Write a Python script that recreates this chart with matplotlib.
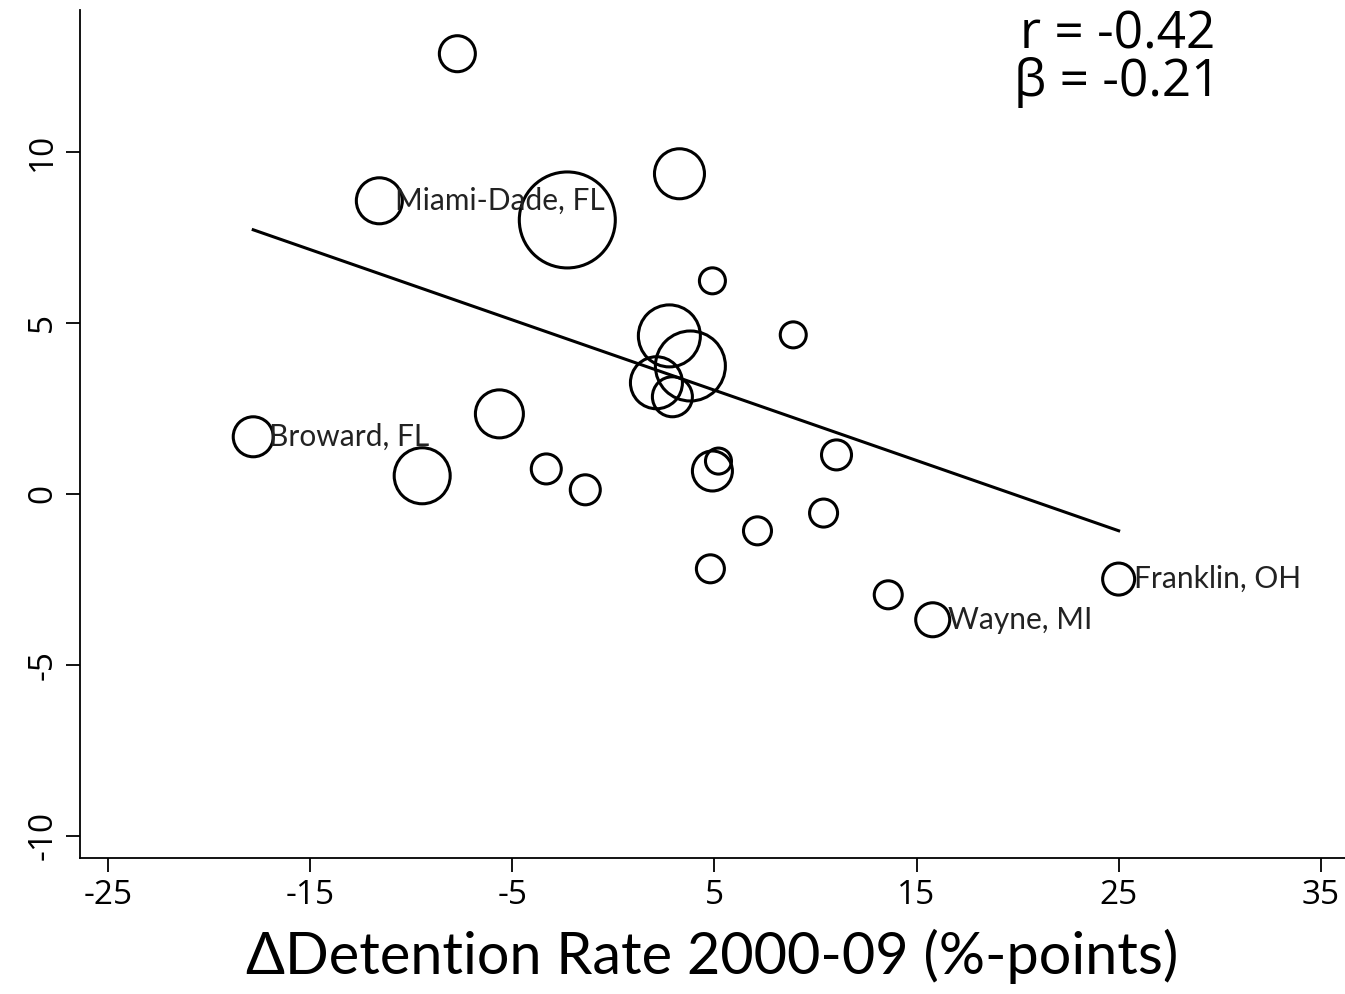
import numpy as np
import matplotlib.pyplot as plt

plt.rcParams["axes.unicode_minus"] = False

# county-level changes (x: detention rate change, y: outcome change)
x_vals = [-7.72, -11.58, -2.28, 3.27, 4.90, 8.90, 2.77, 3.81, 2.13, 2.92,
          -5.64, -17.82, -9.46, -3.32, -1.39, 4.90, 5.20, 11.04, 10.40,
          7.13, 4.80, 13.60, 15.80, 25.00]
y_vals = [12.87, 8.57, 8.01, 9.36, 6.23, 4.65, 4.62, 3.74, 3.25, 2.84,
          2.34, 1.67, 0.53, 0.73, 0.12, 0.67, 0.96, 1.14, -0.56,
          -1.08, -2.19, -2.95, -3.68, -2.49]
# bubble radius (relative weight)
weights = [18, 23, 48, 25, 13, 13, 31, 35, 26, 20,
           24, 20, 28, 15, 15, 20, 13, 15, 14,
           14, 14, 14, 17, 16]
labels = {1: "Miami-Dade, FL", 11: "Broward, FL", 22: "Wayne, MI", 23: "Franklin, OH"}

fit_slope = -0.2055
fit_intercept = 4.06
r_text = "r = -0.42"
b_text = "β = -0.21"

xticks = [-25, -15, -5, 5, 15, 25, 35]
yticks = [-10, -5, 0, 5, 10]

fig = plt.figure(figsize=(13.45, 9.94), dpi=100)
ax = fig.add_axes([0.0595, 0.137, 0.9405, 0.853])

sizes = [(2 * w * 0.72) ** 2 for w in weights]
ax.scatter(x_vals, y_vals, s=sizes, facecolors="none", edgecolors="black",
           linewidths=2.2, zorder=3)

xs = np.array([min(x_vals), max(x_vals)])
ax.plot(xs, fit_intercept + fit_slope * xs, color="black", lw=2.2, zorder=2)

for i, name in labels.items():
    ax.annotate(name, (x_vals[i], y_vals[i]), xytext=(11, 0),
                textcoords="offset points", ha="left", va="center",
                fontsize=21.5, family="Lato", color="#222222")

ax.set_xlim(-26.39, 36.2)
ax.set_ylim(-10.64, 14.15)
ax.set_xticks(xticks)
ax.set_yticks(yticks)
ax.set_yticklabels([str(t) for t in yticks], rotation=90, va="center")
for lab in ax.get_xticklabels() + ax.get_yticklabels():
    lab.set_fontfamily("Open Sans")
    lab.set_fontsize(24)
ax.tick_params(direction="out", length=10, width=1.3, pad=5)

ax.spines["top"].set_visible(False)
ax.spines["right"].set_visible(False)
ax.spines["left"].set_linewidth(1.3)
ax.spines["bottom"].set_linewidth(1.3)

ax.set_xlabel("ΔDetention Rate 2000-09 (%-points)", fontsize=41.5,
              family="Lato", labelpad=12)

ax.text(0.82, 1.0, r_text + "\n" + b_text, transform=ax.transAxes,
        ha="center", va="top", fontsize=37, family="Open Sans",
        linespacing=0.9)

fig.savefig("out.png", dpi=100)
